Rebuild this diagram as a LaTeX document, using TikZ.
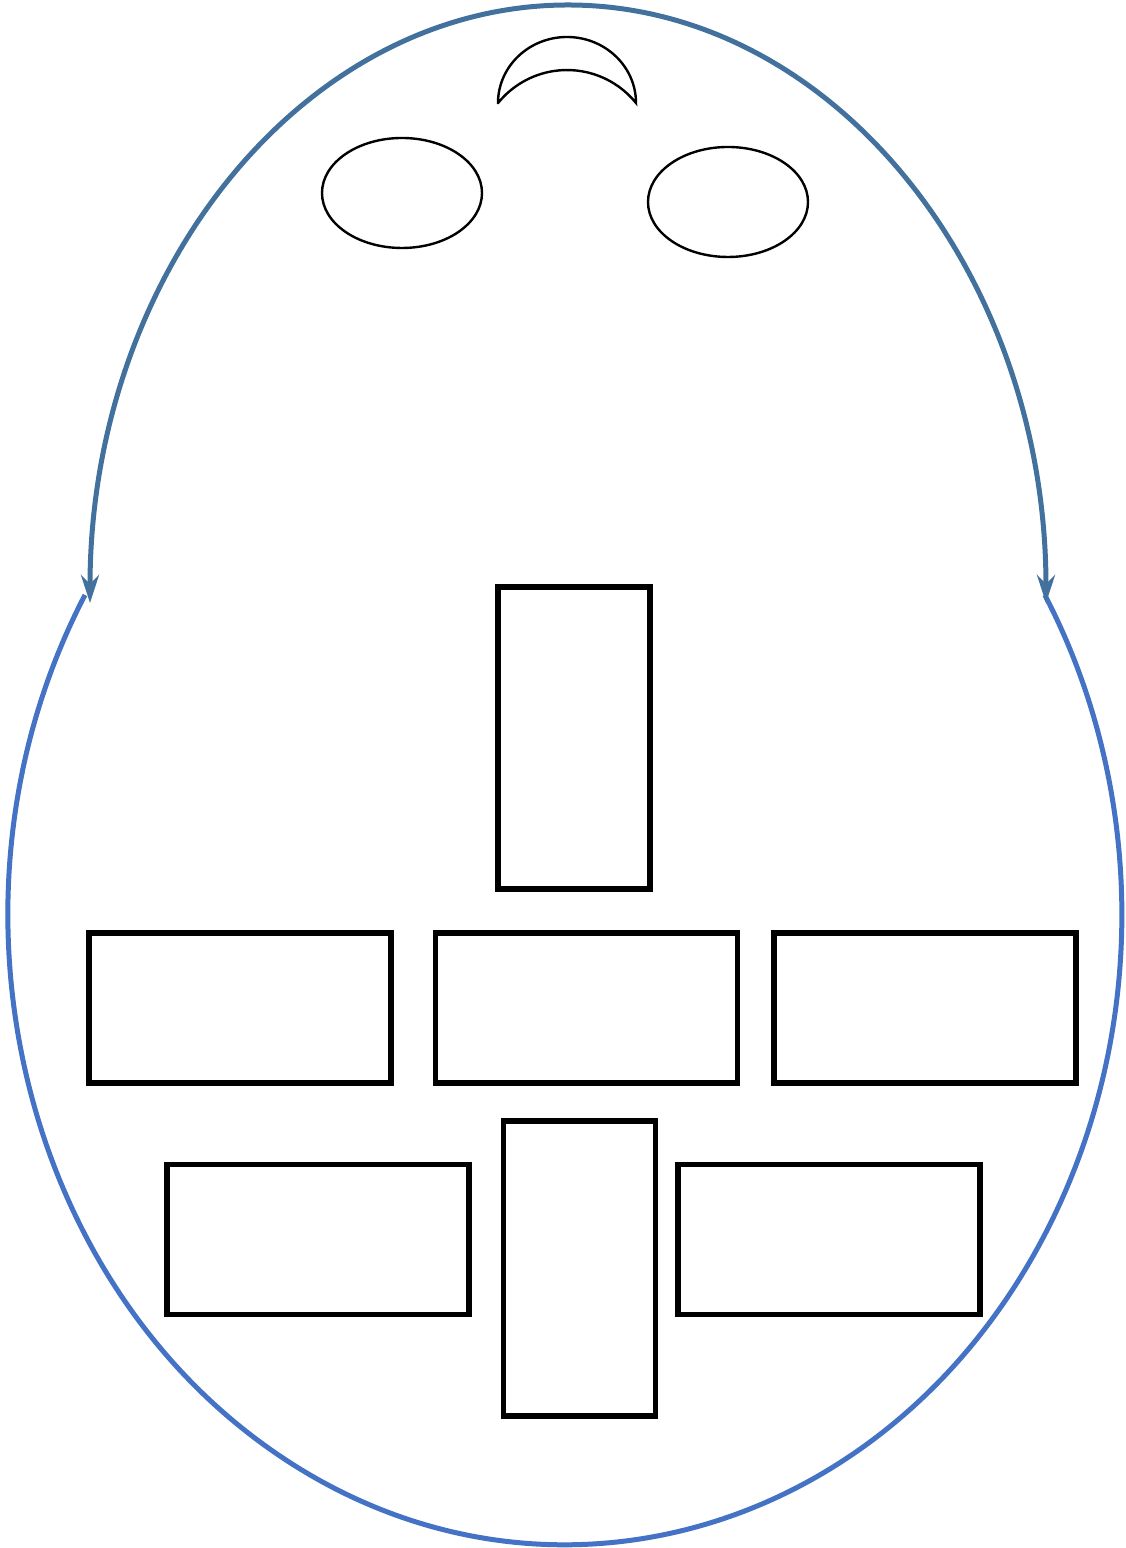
\documentclass[tikz,border=0pt]{standalone}
\usetikzlibrary{shapes.geometric,arrows.meta}
\definecolor{arcA}{RGB}{65,113,156}
\definecolor{arcB}{RGB}{68,114,196}
\begin{document}
\begin{tikzpicture}[x=0.5pt,y=0.5pt,
  box/.style={draw=black,line width=2.6pt,inner sep=0pt,minimum width=151pt,minimum height=75pt},
  vbox/.style={draw=black,line width=2.6pt,inner sep=0pt,minimum width=76pt},
  oval/.style={draw=black,line width=1.2pt,ellipse,inner sep=0pt,minimum width=80pt,minimum height=55pt}]
\useasboundingbox (0,0) rectangle (1125,1548);
% lower outline
\draw[arcB,line width=2.5pt] (85,953) arc[start angle=149.5,end angle=390.5,x radius=557,y radius=630];
% upper outline with arrows
\draw[arcA,line width=2.5pt,{Stealth[length=14pt,width=9pt]}-{Stealth[length=14pt,width=9pt]}]
  (90,945) arc[start angle=180,end angle=0,x radius=478,y radius=598];
% crescent
\draw[black,line width=1.2pt,line join=miter] (498,1445) arc[start angle=180,end angle=0,x radius=69,y radius=66]
  arc[start angle=38.9,end angle=141.1,radius=88.6] -- cycle;
% ovals
\node[oval] (eyeL) at (402,1355) {};
\node[oval] (eyeR) at (728,1346) {};
% boxes
\node[vbox,minimum height=151pt] (top) at (574,810) {};
\node[box] (r1a) at (240,540) {};
\node[box] (r1b) at (586.5,540) {};
\node[box] (r1c) at (925,540) {};
\node[box] (r2a) at (318,308.5) {};
\node[vbox,minimum height=147.5pt] (r2b) at (579.5,279.5) {};
\node[box] (r2c) at (829,308.5) {};
\end{tikzpicture}
\end{document}
